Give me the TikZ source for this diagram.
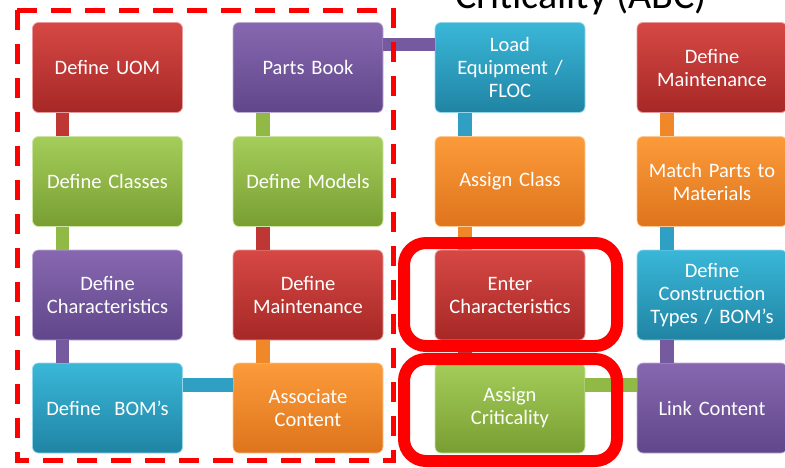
\documentclass[tikz,border=0pt]{standalone}
\usepackage{fontspec}
\setmainfont{Carlito}

\definecolor{redTop}{RGB}{214,72,68}
\definecolor{redBot}{RGB}{166,40,38}
\definecolor{redMid}{RGB}{190,55,52}
\definecolor{greenTop}{RGB}{165,205,90}
\definecolor{greenBot}{RGB}{120,158,50}
\definecolor{greenMid}{RGB}{145,185,70}
\definecolor{purpleTop}{RGB}{135,104,176}
\definecolor{purpleBot}{RGB}{96,70,138}
\definecolor{purpleMid}{RGB}{118,90,160}
\definecolor{blueTop}{RGB}{58,183,216}
\definecolor{blueBot}{RGB}{32,132,164}
\definecolor{blueMid}{RGB}{47,160,195}
\definecolor{orangeTop}{RGB}{252,155,58}
\definecolor{orangeBot}{RGB}{222,116,28}
\definecolor{orangeMid}{RGB}{240,135,40}

\begin{document}
\begin{tikzpicture}[x=1pt, y=-1pt,
	stage/.style={draw=#1Top!55!white, line width=0.8pt, rounded corners=6pt, top color=#1Top, bottom color=#1Bot, minimum width=150pt, minimum height=90pt, text width=146pt, inner sep=2pt, align=center, text=white, font=\fontsize{20.5}{23}\selectfont},
	conn/.style={line width=13.5pt, draw=#1Mid},
	dashframe/.style={draw=red, line width=5pt, dash pattern=on 20pt off 14pt},
	hilite/.style={draw=red, line width=12pt, rounded corners=22pt}]
				\useasboundingbox (0,0) rectangle (785,467);
				\node[anchor=base, font=\fontsize{40}{40}\selectfont] (topic) at (581,8) {Criticality (ABC)};
				% first column, goes down
				\node[stage=red] (UOM) at (107.5,67.5) {Define UOM};
				\node[stage=green] (Classes) at (107.5,181.5) {Define Classes};
				\node[stage=purple] (Chars) at (107.5,295) {Define\\Characteristics};
				\node[stage=blue] (BOMs) at (107.5,408) {Define~~BOM’s};
				% second column, goes up
				\node[stage=purple] (PartsBook) at (308,67.5) {Parts Book};
				\node[stage=green] (Models) at (308,181.5) {Define Models};
				\node[stage=red] (Maint) at (308,295) {Define\\Maintenance};
				\node[stage=orange] (Content) at (308,408) {Associate\\Content};
				% third column, goes down
				\node[stage=blue] (LoadEq) at (510,67.5) {Load\\Equipment /\\FLOC};
				\node[stage=orange] (AssignClass) at (510,181.5) {Assign Class};
				\node[stage=red] (EnterChars) at (510,295) {Enter\\Characteristics};
				\node[stage=green] (Criticality) at (510,408) {Assign\\Criticality};
				% fourth column, goes up
				\node[stage=red] (MaintB) at (712,67.5) {Define\\Maintenance};
				\node[stage=orange] (Match) at (712,181.5) {Match Parts to\\Materials};
				\node[stage=blue] (Construct) at (712,295) {Define\\Construction\\Types / BOM’s};
				\node[stage=purple] (Link) at (712,408) {Link Content};
				\draw[conn=red] ([xshift=-45pt]UOM.south) -- ([xshift=-45pt]Classes.north);
				\draw[conn=green] ([xshift=-45pt]Classes.south) -- ([xshift=-45pt]Chars.north);
				\draw[conn=purple] ([xshift=-45pt]Chars.south) -- ([xshift=-45pt]BOMs.north);
				\draw[conn=blue] ([yshift=23pt]BOMs.east) -- ([yshift=23pt]Content.west);
				\draw[conn=orange] ([xshift=-45pt]Content.north) -- ([xshift=-45pt]Maint.south);
				\draw[conn=red] ([xshift=-45pt]Maint.north) -- ([xshift=-45pt]Models.south);
				\draw[conn=green] ([xshift=-45pt]Models.north) -- ([xshift=-45pt]PartsBook.south);
				\draw[conn=purple] ([yshift=23pt]PartsBook.east) -- ([yshift=23pt]LoadEq.west);
				\draw[conn=blue] ([xshift=-45pt]LoadEq.south) -- ([xshift=-45pt]AssignClass.north);
				\draw[conn=orange] ([xshift=-45pt]AssignClass.south) -- ([xshift=-45pt]EnterChars.north);
				\draw[conn=red] ([xshift=-45pt]EnterChars.south) -- ([xshift=-45pt]Criticality.north);
				\draw[conn=green] ([yshift=23pt]Criticality.east) -- ([yshift=23pt]Link.west);
				\draw[conn=purple] ([xshift=-45pt]Link.north) -- ([xshift=-45pt]Construct.south);
				\draw[conn=blue] ([xshift=-45pt]Construct.north) -- ([xshift=-45pt]Match.south);
				\draw[conn=orange] ([xshift=-45pt]Match.north) -- ([xshift=-45pt]MaintB.south);
				% highlights
				\draw[dashframe] (17,10) rectangle (393,460);
				\draw[hilite] (404,243) rectangle (617,346);
				\draw[hilite] (404,359) rectangle (617,461);
			\end{tikzpicture}
\end{document}
